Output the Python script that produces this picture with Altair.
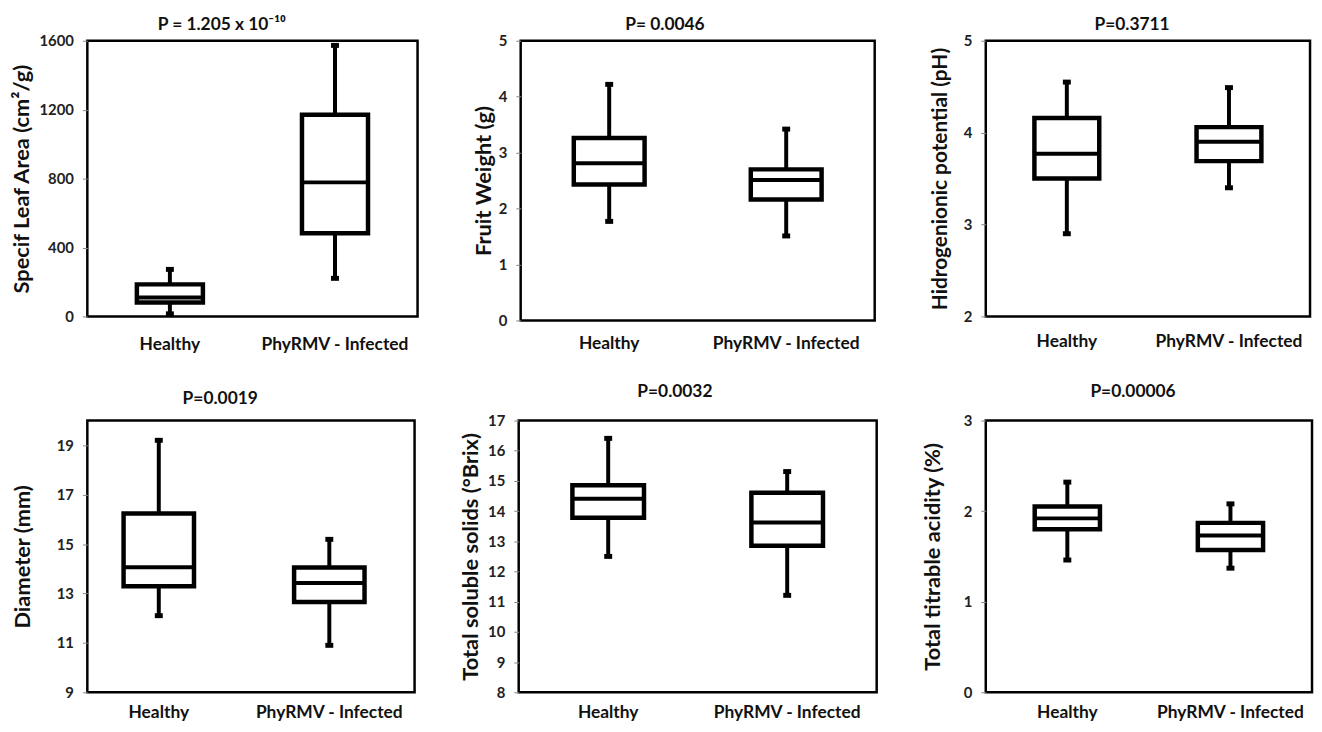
import altair as alt
import pandas as pd

FONT = "Lato"
groups = ["Healthy", "PhyRMV - Infected"]

# Specific leaf area
sla_min = [15, 221]
sla_q1 = [81, 483]
sla_med = [110, 778]
sla_q3 = [186, 1171]
sla_max = [273, 1573]

# Fruit weight
fw_min = [1.77, 1.51]
fw_q1 = [2.43, 2.16]
fw_med = [2.81, 2.51]
fw_q3 = [3.26, 2.70]
fw_max = [4.22, 3.42]

# pH
ph_min = [2.90, 3.40]
ph_q1 = [3.50, 3.69]
ph_med = [3.77, 3.90]
ph_q3 = [4.16, 4.06]
ph_max = [4.55, 4.49]

# Diameter
dm_min = [12.10, 10.90]
dm_q1 = [13.29, 12.65]
dm_med = [14.06, 13.42]
dm_q3 = [16.24, 14.05]
dm_max = [19.20, 15.19]

# Total soluble solids
ts_min = [12.50, 11.21]
ts_q1 = [13.78, 12.85]
ts_med = [14.41, 13.62]
ts_q3 = [14.86, 14.61]
ts_max = [16.41, 15.31]

# Total titrable acidity
ta_min = [1.46, 1.37]
ta_q1 = [1.80, 1.57]
ta_med = [1.92, 1.73]
ta_q3 = [2.05, 1.87]
ta_max = [2.32, 2.08]

titles = ["P = 1.205 x 10⁻¹⁰", "P= 0.0046", "P=0.3711",
          "P=0.0019", "P=0.0032", "P=0.00006"]
ytitles = ["Specif Leaf Area (cm²/g)", "Fruit Weight (g)", "Hidrogenionic potential (pH)",
           "Diameter (mm)", "Total soluble solids (°Brix)", "Total titrable acidity (%)"]
domains = [[0, 1600], [0, 5], [2, 5], [9, 20], [8, 17], [0, 3]]
tick_values = [[0, 400, 800, 1200, 1600], [0, 1, 2, 3, 4, 5], [2, 3, 4, 5],
               [9, 11, 13, 15, 17, 19], [8, 9, 10, 11, 12, 13, 14, 15, 16, 17], [0, 1, 2, 3]]


def panel(mins, q1s, meds, q3s, maxs, title, ytitle, domain, ticks,
          width, height, title_pad, xlab_pad, title_offset, title_dx, ytitle_size=22,
          pad_inner=0.6, pad_outer=0.3, band_align=0.5):
    df = pd.DataFrame({"group": groups, "lo": mins, "q1": q1s, "med": meds,
                       "q3": q3s, "hi": maxs})
    base = alt.Chart(df)
    xenc = alt.X("group:N", sort=groups,
                 scale=alt.Scale(paddingInner=pad_inner, paddingOuter=pad_outer,
                                 align=band_align),
                 axis=alt.Axis(title=None, labelAngle=0, ticks=False, domain=False,
                               labelFont=FONT, labelFontSize=17.5, labelFontWeight="bold",
                               labelColor="#111", labelPadding=xlab_pad))
    scale = alt.Scale(domain=domain, nice=False, zero=False)
    axis = alt.Axis(values=ticks, title=ytitle, grid=False, domain=False, format="d",
                    tickSize=5, tickColor="#888", tickWidth=1,
                    labelFont=FONT, labelFontSize=15, labelFontWeight="bold",
                    labelColor="#222", labelPadding=9,
                    titleFont=FONT, titleFontSize=ytitle_size, titleFontWeight="bold",
                    titleColor="#111", titlePadding=title_pad)

    def Y(f):
        return alt.Y(f"{f}:Q", scale=scale, axis=axis)

    step = width / (2 - pad_inner + 2 * pad_outer)
    bw = step * (1 - pad_inner)
    whisk = base.mark_rule(color="black", strokeWidth=4).encode(
        x=xenc, y=Y("lo"), y2="hi")
    box = base.mark_bar(fill="white", stroke="black", strokeWidth=4.5).encode(
        x=xenc, y=Y("q1"), y2="q3")
    med = base.mark_tick(color="black", thickness=4, size=bw, opacity=1).encode(
        x=xenc, y=Y("med"))
    cap_lo = base.mark_tick(color="black", thickness=5, size=8, opacity=1).encode(
        x=xenc, y=Y("lo"))
    cap_hi = base.mark_tick(color="black", thickness=5, size=8, opacity=1).encode(
        x=xenc, y=Y("hi"))
    return alt.layer(whisk, box, med, cap_lo, cap_hi).properties(
        width=width, height=height,
        title=alt.Title(title, font=FONT, fontSize=17.5, fontWeight="bold",
                        color="#111", offset=title_offset, anchor="middle",
                        frame="group", dx=title_dx))


p1 = panel(sla_min, sla_q1, sla_med, sla_q3, sla_max, titles[0], ytitles[0],
           domains[0], tick_values[0], 333, 278, 6, 19, 0, -31)
p2 = panel(fw_min, fw_q1, fw_med, fw_q3, fw_max, titles[1], ytitles[1],
           domains[1], tick_values[1], 357, 282, 3, 14, 0, -33)
p3 = panel(ph_min, ph_q1, ph_med, ph_q3, ph_max, titles[2], ytitles[2],
           domains[2], tick_values[2], 327, 278, 13, 16, 0, -16, ytitle_size=21)
p4 = panel(dm_min, dm_q1, dm_med, dm_q3, dm_max, titles[3], ytitles[3],
           domains[3], tick_values[3], 330, 274, 22, 11, 13, -31,
           pad_inner=0.587, pad_outer=0.253, band_align=0.42)
p5 = panel(ts_min, ts_q1, ts_med, ts_q3, ts_max, titles[4], ytitles[4],
           domains[4], tick_values[4], 361, 274, 5, 11, 13, -23)
p6 = panel(ta_min, ta_q1, ta_med, ta_q3, ta_max, titles[5], ytitles[5],
           domains[5], tick_values[5], 329, 274, 19, 11, 13, -16)

row1 = alt.hconcat(p1, p2, p3, spacing=52)
row2 = alt.hconcat(p4, p5, p6, spacing=42)
chart = alt.vconcat(row1, row2, spacing=28).properties(
    padding={"top": 4, "left": 0, "right": 0, "bottom": 0},
    background="white"
).configure_view(stroke="black", strokeWidth=2.5)

chart.save("out.html", embed_options={"renderer": "svg", "actions": False})
